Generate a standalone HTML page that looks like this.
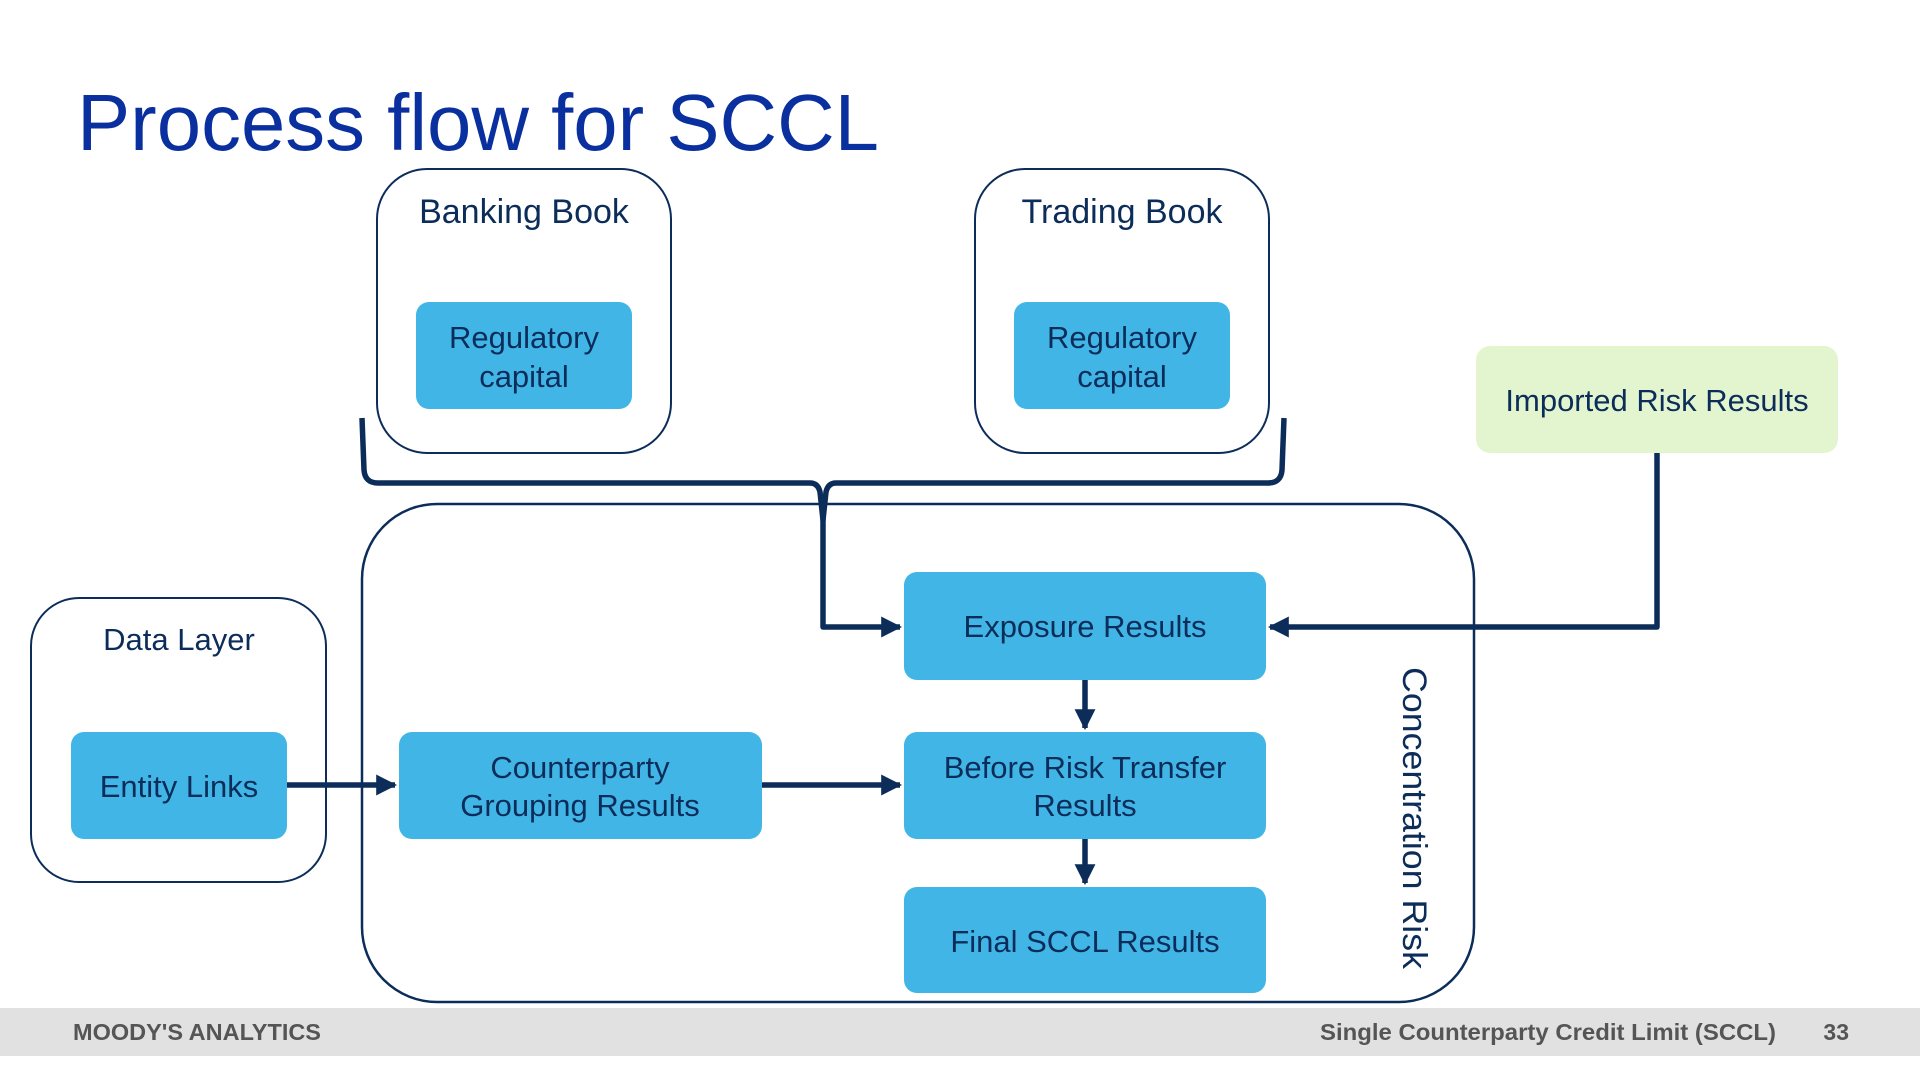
<!DOCTYPE html>
<html><head><meta charset="utf-8"><style>
html,body{margin:0;padding:0;background:#fff;}
svg{display:block;}
text{font-family:"Liberation Sans",Arial,sans-serif;}
</style></head><body>
<svg width="1920" height="1080" viewBox="0 0 1920 1080" xmlns="http://www.w3.org/2000/svg">
<defs>
<marker id="ah" viewBox="0 0 10 10" refX="9" refY="5" markerWidth="3.8" markerHeight="3.8" orient="auto-start-reverse" markerUnits="strokeWidth">
<path d="M0,0 L10,5 L0,10 z" fill="#0c2d5a"/></marker>
</defs>
<rect width="1920" height="1080" fill="#fff"/>
<text x="77" y="150" font-size="80" fill="#0a2f9e" textLength="802" lengthAdjust="spacingAndGlyphs">Process flow for SCCL</text>

<rect x="377" y="169" width="294" height="284" rx="50" fill="#fff" stroke="#0c2d5a" stroke-width="2"/>
<text x="524" y="223" font-size="34" fill="#0c2d5a" text-anchor="middle">Banking Book</text>
<rect x="416" y="302" width="216" height="107" rx="13" fill="#41b6e6"/>
<text x="524" y="348" font-size="31" fill="#0c2d5a" text-anchor="middle">Regulatory</text>
<text x="524" y="387" font-size="31" fill="#0c2d5a" text-anchor="middle">capital</text>

<rect x="975" y="169" width="294" height="284" rx="50" fill="#fff" stroke="#0c2d5a" stroke-width="2"/>
<text x="1122" y="223" font-size="34" fill="#0c2d5a" text-anchor="middle">Trading Book</text>
<rect x="1014" y="302" width="216" height="107" rx="13" fill="#41b6e6"/>
<text x="1122" y="348" font-size="31" fill="#0c2d5a" text-anchor="middle">Regulatory</text>
<text x="1122" y="387" font-size="31" fill="#0c2d5a" text-anchor="middle">capital</text>

<rect x="1476" y="346" width="362" height="107" rx="14" fill="#e2f5cf"/>
<text x="1657" y="411" font-size="31" fill="#0c2d5a" text-anchor="middle">Imported Risk Results</text>

<rect x="362" y="504" width="1112" height="498" rx="75" fill="none" stroke="#0c2d5a" stroke-width="2.5"/>
<text transform="translate(1403,818) rotate(90)" font-size="34" fill="#0c2d5a" text-anchor="middle" textLength="302" lengthAdjust="spacingAndGlyphs">Concentration Risk</text>

<rect x="31" y="598" width="295" height="284" rx="48" fill="#fff" stroke="#0c2d5a" stroke-width="2"/>
<text x="179" y="650" font-size="31" fill="#0c2d5a" text-anchor="middle">Data Layer</text>
<rect x="71" y="732" width="216" height="107" rx="13" fill="#41b6e6"/>
<text x="179" y="797" font-size="31" fill="#0c2d5a" text-anchor="middle">Entity Links</text>

<rect x="399" y="732" width="363" height="107" rx="13" fill="#41b6e6"/>
<text x="580" y="778" font-size="31" fill="#0c2d5a" text-anchor="middle">Counterparty</text>
<text x="580" y="816" font-size="31" fill="#0c2d5a" text-anchor="middle">Grouping Results</text>

<rect x="904" y="572" width="362" height="108" rx="13" fill="#41b6e6"/>
<text x="1085" y="637" font-size="31" fill="#0c2d5a" text-anchor="middle">Exposure Results</text>
<rect x="904" y="732" width="362" height="107" rx="13" fill="#41b6e6"/>
<text x="1085" y="778" font-size="31" fill="#0c2d5a" text-anchor="middle">Before Risk Transfer</text>
<text x="1085" y="816" font-size="31" fill="#0c2d5a" text-anchor="middle">Results</text>
<rect x="904" y="887" width="362" height="106" rx="13" fill="#41b6e6"/>
<text x="1085" y="952" font-size="31" fill="#0c2d5a" text-anchor="middle">Final SCCL Results</text>

<g fill="none" stroke="#0c2d5a" stroke-width="5.5" stroke-linejoin="round">
<path d="M362,418 L364,470 Q365,483 378,483 L810,483 Q818,483 820,492 L823,520 L826,492 Q828,483 836,483 L1268,483 Q1281,483 1282,470 L1284,418"/>
<path d="M823,515 L823,627 L900,627" marker-end="url(#ah)"/>
<path d="M1657,453 L1657,627 L1270,627" marker-end="url(#ah)"/>
<path d="M1085,680 L1085,728" marker-end="url(#ah)"/>
<path d="M1085,839 L1085,883" marker-end="url(#ah)"/>
<path d="M287,785 L395,785" marker-end="url(#ah)"/>
<path d="M762,785 L900,785" marker-end="url(#ah)"/>
</g>

<rect x="0" y="1008" width="1920" height="48" fill="#e1e1e1"/>
<text x="73" y="1040" font-size="23" font-weight="bold" fill="#555" textLength="248" lengthAdjust="spacingAndGlyphs">MOODY'S ANALYTICS</text>
<text x="1320" y="1040" font-size="23" font-weight="bold" fill="#555" textLength="456" lengthAdjust="spacingAndGlyphs">Single Counterparty Credit Limit (SCCL)</text>
<text x="1849" y="1040" font-size="23" font-weight="bold" fill="#555" text-anchor="end">33</text>
</svg>
</body></html>
